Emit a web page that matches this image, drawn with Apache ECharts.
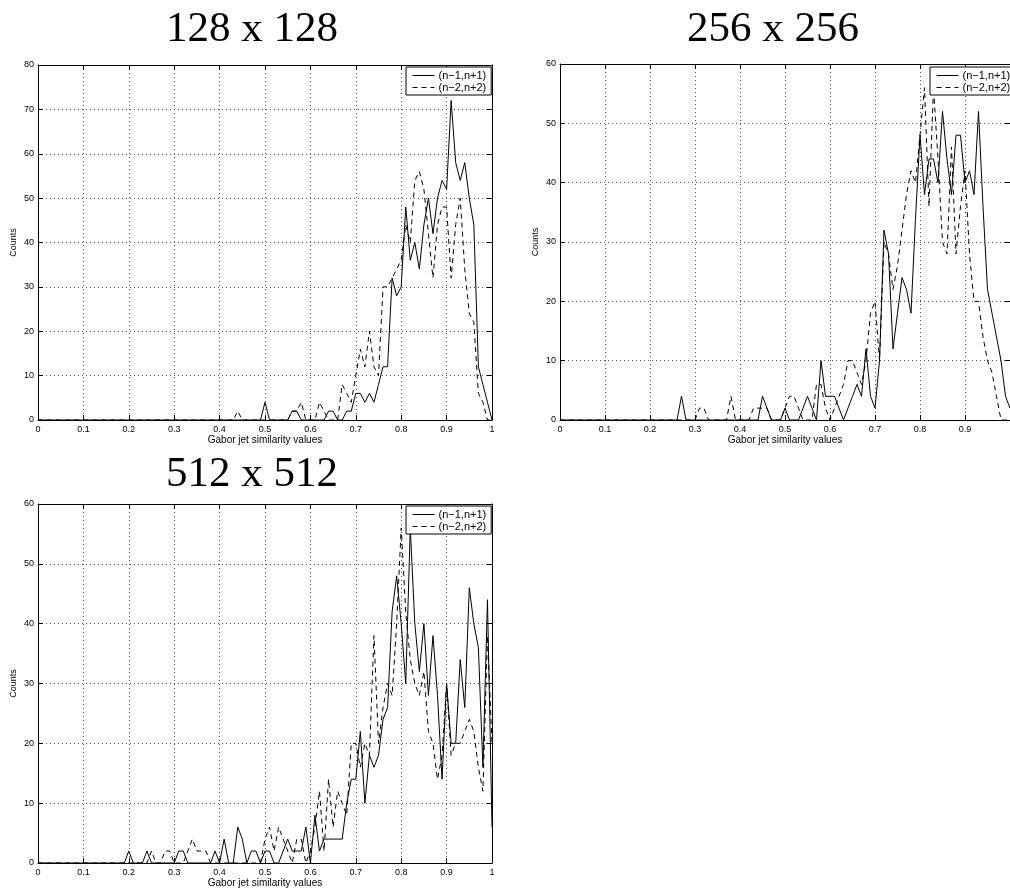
<!DOCTYPE html>
<html><head><meta charset="utf-8">
<script src="https://cdn.jsdelivr.net/npm/echarts@6/dist/echarts.min.js"></script>
<style>html,body{margin:0;padding:0;background:#fff}#c{width:1010px;height:893px}</style>
</head><body><div id="c"></div>
<script>
// ---- data ----
const bins = [
  0.00,0.01,0.02,0.03,0.04,0.05,0.06,0.07,0.08,0.09,
  0.10,0.11,0.12,0.13,0.14,0.15,0.16,0.17,0.18,0.19,
  0.20,0.21,0.22,0.23,0.24,0.25,0.26,0.27,0.28,0.29,
  0.30,0.31,0.32,0.33,0.34,0.35,0.36,0.37,0.38,0.39,
  0.40,0.41,0.42,0.43,0.44,0.45,0.46,0.47,0.48,0.49,
  0.50,0.51,0.52,0.53,0.54,0.55,0.56,0.57,0.58,0.59,
  0.60,0.61,0.62,0.63,0.64,0.65,0.66,0.67,0.68,0.69,
  0.70,0.71,0.72,0.73,0.74,0.75,0.76,0.77,0.78,0.79,
  0.80,0.81,0.82,0.83,0.84,0.85,0.86,0.87,0.88,0.89,
  0.90,0.91,0.92,0.93,0.94,0.95,0.96,0.97,0.98,0.99,
  1.00
];
const titles = ['128 x 128', '256 x 256', '512 x 512'];
const seriesNames = ['(n\u22121,n+1)', '(n\u22122,n+2)'];
const xLabel = 'Gabor jet similarity values';
const yLabel = 'Counts';
const yMax = [80, 60, 60];
const xStep = 0.1;
const yStep = 10;

// 128 x 128
const c128_n1 = [
  0,0,0,0,0,0,0,0,0,0,
  0,0,0,0,0,0,0,0,0,0,
  0,0,0,0,0,0,0,0,0,0,
  0,0,0,0,0,0,0,0,0,0,
  0,0,0,0,0,0,0,0,0,0,
  4,0,0,0,0,0,2,2,0,0,
  0,0,0,0,2,2,0,0,2,2,
  6,6,4,6,4,8,12,12,32,28,
  30,48,36,40,34,44,50,42,50,54,
  52,72,58,54,58,50,44,12,8,4,
  0
];
const c128_n2 = [
  0,0,0,0,0,0,0,0,0,0,
  0,0,0,0,0,0,0,0,0,0,
  0,0,0,0,0,0,0,0,0,0,
  0,0,0,0,0,0,0,0,0,0,
  0,0,0,0,2,0,0,0,0,0,
  0,0,0,0,0,0,2,2,4,0,
  0,0,4,2,0,0,0,8,6,4,
  10,16,12,20,12,10,30,30,32,34,
  36,44,40,54,56,52,42,32,44,48,
  48,32,44,50,34,24,22,6,4,0,
  0
];
// 256 x 256
const c256_n1 = [
  0,0,0,0,0,0,0,0,0,0,
  0,0,0,0,0,0,0,0,0,0,
  0,0,0,0,0,0,0,4,0,0,
  0,0,0,0,0,0,0,0,0,0,
  0,0,0,0,0,4,2,0,0,0,
  2,0,0,0,2,4,2,0,10,4,
  4,4,2,0,2,4,6,4,12,4,
  2,10,32,28,12,18,24,22,18,34,
  48,38,44,44,40,52,44,38,48,48,
  40,42,38,52,36,22,18,14,10,4,
  2
];
const c256_n2 = [
  0,0,0,0,0,0,0,0,0,0,
  0,0,0,0,0,0,0,0,0,0,
  0,0,0,0,0,0,0,0,0,0,
  0,2,2,0,0,0,0,0,4,0,
  0,0,0,2,2,2,2,0,0,0,
  2,4,4,2,0,0,0,6,6,2,
  0,2,4,6,10,10,8,6,10,18,
  20,10,30,28,22,26,32,38,42,40,
  48,56,36,56,44,30,28,46,28,36,
  42,28,20,20,14,10,8,4,0,0,
  0
];
// 512 x 512
const c512_n1 = [
  0,0,0,0,0,0,0,0,0,0,
  0,0,0,0,0,0,0,0,0,0,
  2,0,0,0,2,0,0,0,0,0,
  0,2,2,0,0,0,0,0,0,2,
  0,4,0,0,6,4,0,2,2,0,
  2,2,0,0,2,4,2,2,2,6,
  0,8,2,4,4,4,4,4,10,14,
  14,22,10,18,16,18,24,26,42,48,
  40,30,56,40,32,40,28,38,28,14,
  30,20,20,34,26,46,40,36,16,44,
  6
];
const c512_n2 = [
  0,0,0,0,0,0,0,0,0,0,
  0,0,0,0,0,0,0,0,0,0,
  0,0,0,0,0,2,0,0,2,2,
  0,0,0,2,4,2,2,2,0,0,
  0,0,0,0,0,0,0,0,0,0,
  4,6,2,6,4,2,0,4,4,0,
  2,6,12,2,14,6,12,10,8,20,
  20,16,20,18,38,20,26,30,28,40,
  56,42,34,30,28,32,22,20,14,18,
  30,18,20,20,22,24,22,16,12,38,
  20
];
const panels = [[c128_n1, c128_n2], [c256_n1, c256_n2], [c512_n1, c512_n2]];

// ---- layout / style ----
const grids = [
  {left: 38, top: 65, width: 454, height: 355},
  {left: 560, top: 64, width: 452, height: 356},
  {left: 38, top: 504, width: 454, height: 359}
];
const titlePos = [[252, 29.5], [773, 29.5], [252, 475]];
const legendPos = [[406, 67], [930, 67], [406, 506]];
const FONT = '"Liberation Sans", Arial, Helvetica, sans-serif';
const dotted = {color: '#555', type: [1, 3], width: 1};
const tickStyle = {show: true, inside: true, length: 5, lineStyle: {color: '#000', width: 1}};
const lineAx = {show: true, onZero: false, lineStyle: {color: '#000', width: 1}};

const xAxis = [], yAxis = [], series = [], legend = [], graphic = [];
grids.forEach((g, i) => {
  xAxis.push({
    type: 'value', gridIndex: i, position: 'bottom', min: 0, max: 1, interval: xStep,
    axisLine: lineAx, axisTick: tickStyle,
    axisLabel: {color: '#000', fontSize: 9, margin: 5, fontFamily: FONT, showMaxLabel: i !== 1, hideOverlap: false},
    splitLine: {show: true, lineStyle: dotted},
    name: xLabel, nameLocation: 'middle', nameGap: 15,
    nameTextStyle: {color: '#000', fontSize: 10, fontFamily: FONT}
  });
  yAxis.push({
    type: 'value', gridIndex: i, position: 'left', min: 0, max: yMax[i], interval: yStep,
    axisLine: lineAx, axisTick: tickStyle,
    axisLabel: {color: '#000', fontSize: 9, margin: 4, fontFamily: FONT, hideOverlap: false},
    splitLine: {show: true, lineStyle: dotted},
    name: yLabel, nameLocation: 'middle', nameGap: 20, nameRotate: 90,
    nameTextStyle: {color: '#000', fontSize: 9, fontFamily: FONT}
  });
});
grids.forEach((g, i) => {
  xAxis.push({
    type: 'value', gridIndex: i, position: 'top', min: 0, max: 1, interval: xStep,
    axisLine: lineAx, axisTick: tickStyle, axisLabel: {show: false}, splitLine: {show: false}
  });
  yAxis.push({
    type: 'value', gridIndex: i, position: 'right', min: 0, max: yMax[i], interval: yStep,
    axisLine: lineAx, axisTick: tickStyle, axisLabel: {show: false}, splitLine: {show: false}
  });
});
panels.forEach((pair, i) => {
  pair.forEach((counts, k) => {
    series.push({
      type: 'line', name: seriesNames[k], xAxisIndex: i, yAxisIndex: i,
      data: bins.map((b, j) => [b, counts[j]]),
      symbol: 'none', showSymbol: false, animation: false, clip: true,
      lineStyle: {color: '#000', width: 1, type: k === 0 ? 'solid' : [5, 4]},
      itemStyle: {color: '#000'}
    });
  });
  legend.push({
    left: legendPos[i][0], top: legendPos[i][1], orient: 'vertical',
    data: seriesNames, selectedMode: false,
    borderColor: '#000', borderWidth: 1, backgroundColor: '#fff',
    padding: [3, 5, 2, 6], itemGap: 1, itemWidth: 22, itemHeight: 12,
    itemStyle: {opacity: 0, borderWidth: 0},
    lineStyle: {width: 1},
    textStyle: {color: '#000', fontSize: 11, fontFamily: FONT, padding: [0, 0, 0, -1]}
  });
  graphic.push({
    type: 'text', x: titlePos[i][0], y: titlePos[i][1],
    style: {text: titles[i], fill: '#000', font: '43px "Liberation Serif", "DejaVu Serif", serif',
            align: 'center', verticalAlign: 'middle', textAlign: 'center', textVerticalAlign: 'middle'}
  });
});

const chart = echarts.init(document.getElementById('c'), null, {renderer: 'canvas'});
chart.setOption({
  animation: false,
  backgroundColor: '#fff',
  grid: grids,
  xAxis, yAxis, series, legend, graphic
});
</script>
</body></html>
